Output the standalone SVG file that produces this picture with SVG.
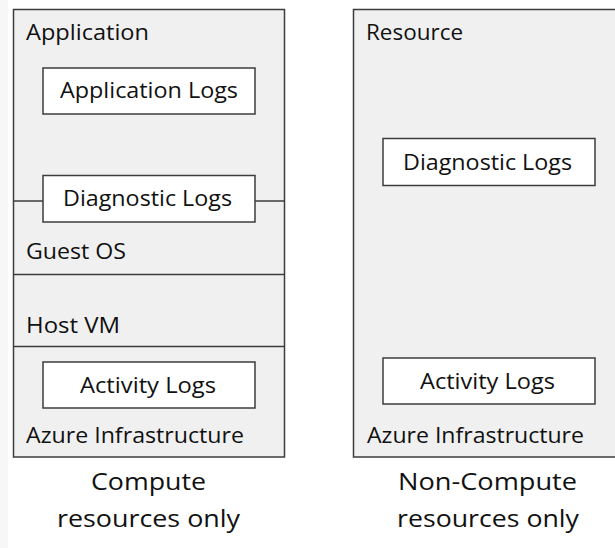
<svg xmlns="http://www.w3.org/2000/svg" width="615" height="548" viewBox="0 0 615 548">
<style>
.panel{fill:#f0f0f0;stroke:#3c3c3c;stroke-width:1.5}
.log{fill:#ffffff;stroke:#3c3c3c;stroke-width:1.5}
.div{stroke:#3c3c3c;stroke-width:1.5;fill:none}
text{font-family:"Open Sans","Noto Sans","Liberation Sans",sans-serif;font-size:22px;fill:#111}
.cap{font-size:24px}
</style>
<rect x="0" y="0" width="615" height="548" fill="#ffffff"/>
<rect x="0" y="0" width="8" height="548" fill="#f7f7f7"/>
<g id="compute-panel">
<rect class="panel" x="13.5" y="9.5" width="271" height="447.5"/>
<text x="26" y="40" textLength="123" lengthAdjust="spacingAndGlyphs">Application</text>
<text x="26" y="259" textLength="100" lengthAdjust="spacingAndGlyphs">Guest OS</text>
<text x="26" y="333" textLength="94" lengthAdjust="spacingAndGlyphs">Host VM</text>
<text x="26" y="443" textLength="218" lengthAdjust="spacingAndGlyphs">Azure Infrastructure</text>
</g>
<g id="connectors">
<line class="div" x1="13.5" y1="201" x2="43" y2="201"/>
<line class="div" x1="255" y1="201" x2="284.5" y2="201"/>
<line class="div" x1="13.5" y1="274.5" x2="284.5" y2="274.5"/>
<line class="div" x1="13.5" y1="346.5" x2="284.5" y2="346.5"/>
<line class="div" x1="353.5" y1="346.5" x2="615" y2="346.5"/>
</g>
<g id="app-logs">
<rect class="log" x="43" y="68" width="212" height="46"/>
<text x="60" y="98" textLength="178" lengthAdjust="spacingAndGlyphs">Application Logs</text>
</g>
<g id="diag-logs-compute">
<rect class="log" x="43" y="175.5" width="212" height="46.5"/>
<text x="63" y="206" textLength="169" lengthAdjust="spacingAndGlyphs">Diagnostic Logs</text>
</g>
<g id="activity-logs-compute">
<rect class="log" x="43" y="362" width="212" height="46"/>
<text x="80" y="393" textLength="136" lengthAdjust="spacingAndGlyphs">Activity Logs</text>
</g>
<g id="compute-caption">
<text class="cap" x="91" y="490" textLength="115" lengthAdjust="spacingAndGlyphs">Compute</text>
<text class="cap" x="57" y="527" textLength="183" lengthAdjust="spacingAndGlyphs">resources only</text>
</g>
<g id="noncompute-panel">
<rect class="panel" x="353.5" y="9.5" width="270" height="447.5"/>
<text x="366" y="40" textLength="97" lengthAdjust="spacingAndGlyphs">Resource</text>
<text x="367" y="443" textLength="217" lengthAdjust="spacingAndGlyphs">Azure Infrastructure</text>
</g>
<g id="diag-logs-noncompute">
<rect class="log" x="383" y="138.5" width="212" height="47"/>
<text x="403" y="170" textLength="169" lengthAdjust="spacingAndGlyphs">Diagnostic Logs</text>
</g>
<g id="activity-logs-noncompute">
<rect class="log" x="383" y="358" width="212" height="46"/>
<text x="420" y="389" textLength="135" lengthAdjust="spacingAndGlyphs">Activity Logs</text>
</g>
<g id="noncompute-caption">
<text class="cap" x="398" y="490" textLength="179" lengthAdjust="spacingAndGlyphs">Non-Compute</text>
<text class="cap" x="397" y="527" textLength="182" lengthAdjust="spacingAndGlyphs">resources only</text>
</g>
</svg>
